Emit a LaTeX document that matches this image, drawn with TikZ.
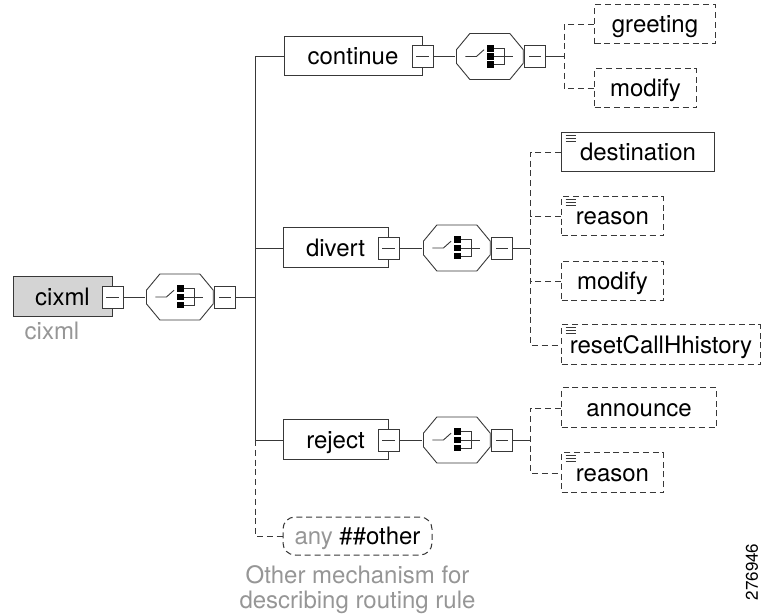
\documentclass[tikz,border=0pt]{standalone}
\usepackage{fontspec}
\setmainfont{TeX Gyre Heros}
\usetikzlibrary{positioning,calc}
\definecolor{rootgray}{RGB}{212,212,212}
\definecolor{notegray}{RGB}{150,150,150}

\begin{document}
\begin{tikzpicture}[
  x=0.5pt, y=-0.5pt,
  font=\fontsize{12}{12.5}\selectfont,
  elem/.style={draw=black!78, line width=0.5pt, inner sep=0pt, minimum height=19.5pt, text height=9.6pt, text depth=1.4pt},
  optelem/.style={elem, dash pattern=on 3pt off 1.9pt},
  root/.style={elem, fill=rootgray, minimum height=20pt},
  ann/.style={path picture={
      \foreach \d in {1.4,2.7,4.0}
        \draw[solid, line width=0.35pt, black!78] ([xshift=2pt,yshift=-\d pt]path picture bounding box.north west) -- ++(5pt,0);}},
  minus/.style={draw=black!78, line width=0.45pt, fill=white, inner sep=0pt, minimum width=10.5pt, minimum height=11pt,
    path picture={\draw[line width=0.45pt, black!78] ([xshift=2.2pt]path picture bounding box.west) -- ([xshift=-2.2pt]path picture bounding box.east);}},
  choice/.style={inner sep=0pt, minimum width=34pt, minimum height=24pt,
    path picture={
      \begin{scope}[shift={(path picture bounding box.center)}, line width=0.45pt, black!78]
        \draw (-10pt,11.5pt) -- (10pt,11.5pt) -- (16.7pt,3.4pt) -- (16.7pt,-3.4pt) -- (10pt,-11.5pt)
          -- (-10pt,-11.5pt) -- (-16.7pt,-3.4pt) -- (-16.7pt,3.4pt) -- cycle;
        \draw (-12.2pt,0) -- (-6.7pt,0) -- (-2.9pt,3.4pt);
        \fill[black] (-1.4pt,2.45pt) rectangle (1.9pt,5.75pt);
        \fill[black] (-1.4pt,-1.65pt) rectangle (1.9pt,1.65pt);
        \fill[black] (-1.4pt,-5.75pt) rectangle (1.9pt,-2.45pt);
        \draw (1.9pt,4.1pt) -- (7.2pt,4.1pt) -- (7.2pt,-4.1pt) -- (1.9pt,-4.1pt);
        \draw (1.9pt,0) -- (11.5pt,0);
      \end{scope}}},
  conn/.style={line width=0.45pt, black!78},
  note/.style={text=notegray, align=center},
]
\useasboundingbox (0,0) rectangle (762,615);
% ---- root ----
\node[root, minimum width=49.5pt] (cixml) at (62.5,297) {cixml};
\node[minus] (m0) at (cixml.east) {};
\node[choice, right=11pt of m0] (ch0) {};
\node[minus, right=0pt of ch0] (m0b) {};
\node[note, anchor=center] (cixmlnote) at (52,331) {cixml};
% ---- trunk coordinates ----
\coordinate (t0) at (255,0);
\coordinate (t1) at (564,0);
\coordinate (t2) at (530,0);
% ---- continue ----
\node[elem, minimum width=69pt] (continue) at (353,56.5) {continue};
\node[minus] (mc) at (continue.east) {};
\node[choice, right=11pt of mc] (chc) {};
\node[minus, right=0pt of chc] (mcb) {};
\node[optelem, anchor=west, minimum width=60.5pt] (greeting) at (594,24.5) {greeting};
\node[optelem, anchor=west, minimum width=51pt] (modifyc) at (594,88.5) {modify};
% ---- divert ----
\node[elem, minimum width=52.5pt, minimum height=20pt] (divert) at (335.5,248) {divert};
\node[minus] (md) at (divert.east) {};
\node[choice, right=11.5pt of md] (chd) {};
\node[minus, right=0pt of chd] (mdb) {};
\node[elem, ann, anchor=west, minimum width=76.5pt] (destination) at (561,152.5) {destination};
\node[optelem, ann, anchor=west, minimum width=51pt] (reasond) at (561,216.5) {reason};
\node[optelem, anchor=west, minimum width=51pt] (modifyd) at (561,281) {modify};
\node[optelem, ann, anchor=west, minimum width=99.5pt, minimum height=20pt] (reset) at (561,345) {resetCallHhistory};
% ---- reject ----
\node[elem, minimum width=52.5pt, minimum height=20pt] (reject) at (335.5,440) {reject};
\node[minus] (mr) at (reject.east) {};
\node[choice, right=11.5pt of mr] (chr) {};
\node[minus, right=0pt of chr] (mrb) {};
\node[optelem, anchor=west, minimum width=77.5pt, minimum height=20pt] (announce) at (561,408) {announce};
\node[optelem, ann, anchor=west, minimum width=51pt, minimum height=20pt] (reasonr) at (561,473) {reason};
% ---- any ----
\node[optelem, rounded corners=6pt, minimum width=74.5pt, minimum height=19pt] (any) at (357.5,536) {{\color{notegray}any} \#\#other};
\node[note] (anynote) at (357.5,590) {Other mechanism for\\describing routing rule};
\node[rotate=90, font=\fontsize{8.5}{9}\selectfont] (fignum) at (752,572) {276946};
% ---- connectors ----
\draw[conn] (m0.east) -- (ch0.west);
\draw[conn] (m0b.east) -- (m0b.east -| t0);
\draw[conn] (continue.west) -- (continue.west -| t0) -- (reject.west -| t0) -- (reject.west);
\draw[conn] (divert.west) -- (divert.west -| t0);
\draw[conn, dash pattern=on 3pt off 1.9pt] (reject.west -| t0) |- (any.west);
\draw[conn] (mc.east) -- (chc.west);
\draw[conn] (mcb.east) -- (mcb.east -| t1);
\draw[conn, dash pattern=on 3pt off 1.9pt] (greeting.west) -| (modifyc.west -| t1) -- (modifyc.west);
\draw[conn] (md.east) -- (chd.west);
\draw[conn] (mdb.east) -- (mdb.east -| t2);
\draw[conn, dash pattern=on 3pt off 1.9pt] (destination.west) -| (reset.west -| t2) -- (reset.west);
\draw[conn, dash pattern=on 3pt off 1.9pt] (reasond.west) -- (reasond.west -| t2);
\draw[conn, dash pattern=on 3pt off 1.9pt] (modifyd.west) -- (modifyd.west -| t2);
\draw[conn] (mr.east) -- (chr.west);
\draw[conn] (mrb.east) -- (mrb.east -| t2);
\draw[conn, dash pattern=on 3pt off 1.9pt] (announce.west) -| (reasonr.west -| t2) -- (reasonr.west);
\end{tikzpicture}
\end{document}
